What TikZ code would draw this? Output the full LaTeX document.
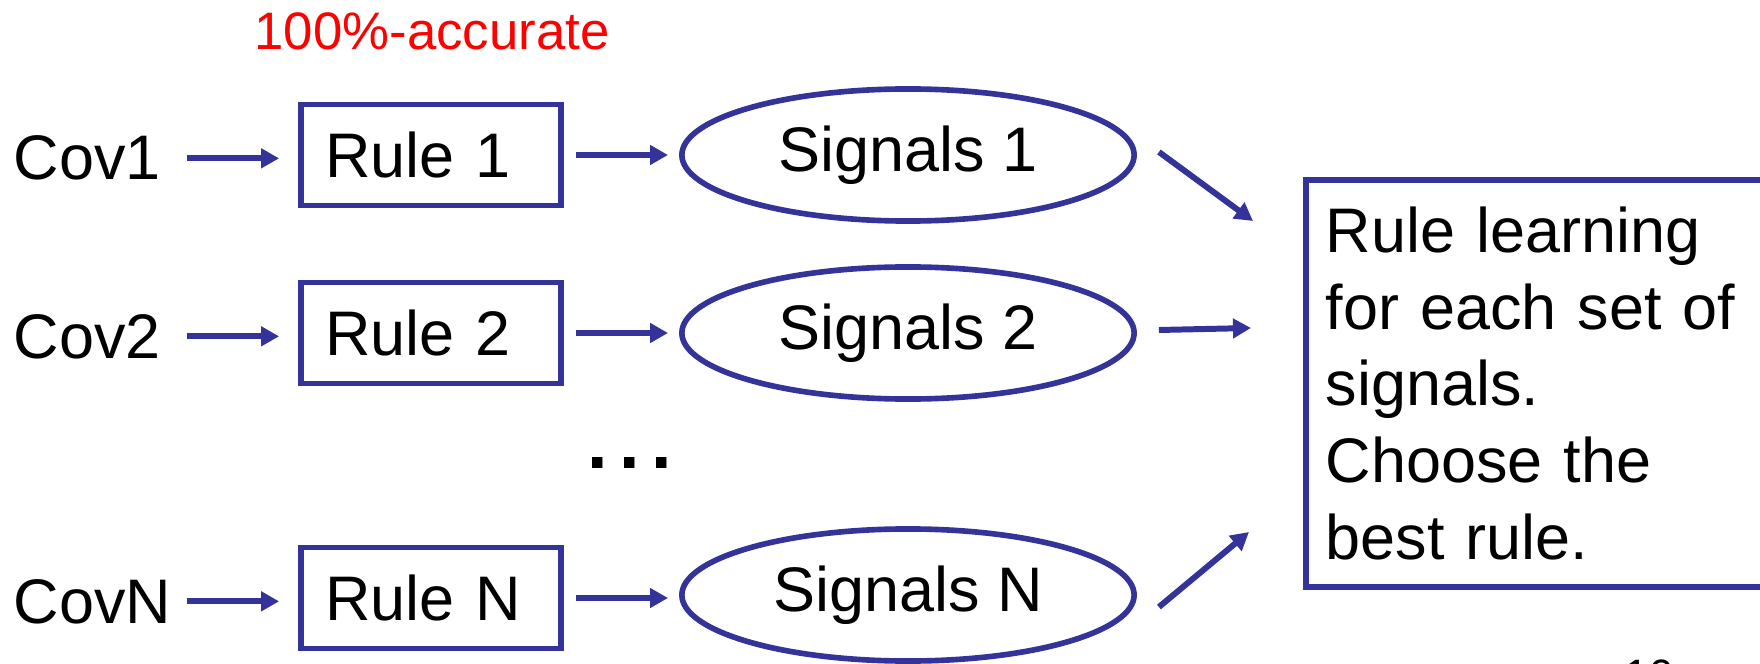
\documentclass[tikz,border=0pt]{standalone}
\usepackage{fontspec}
\setmainfont{Liberation Sans}
\usepackage{tikz}
\usetikzlibrary{shapes.geometric,arrows.meta}
\definecolor{slideblue}{RGB}{51,51,153}

\tikzset{
  covlabel/.style={anchor=base west, inner sep=0pt, text width=1.62cm, align=left},
  rulebox/.style={draw=slideblue, line width=1.6pt, minimum width=2.6cm, minimum height=1.01cm,
    text width=2.11cm, inner xsep=0.245cm, inner ysep=0pt, align=left},
  sigbox/.style={ellipse, draw=slideblue, line width=1.6pt, minimum width=4.52cm, minimum height=1.32cm, inner sep=0pt},
  arr/.style={draw=slideblue, line width=1.7pt, -{Triangle[length=0.18cm,width=0.19cm]}},
}

\begin{document}
\begin{tikzpicture}[x=0.01cm, y=-0.01cm, font=\fontsize{17.9pt}{21.8pt}\selectfont]
\clip (0,0) rectangle (1760,664);

\node[anchor=base, inner sep=0pt, text=red, font=\fontsize{15pt}{18pt}\selectfont] (acc) at (432,50) {100\%-accurate}; % label over rule 1

% row 1
\node[covlabel] (cov1) at (13,180) {Cov1};
\node[rulebox] (rule1) at (431,155) {Rule 1};
\node[sigbox] (sig1) at (908,155) {Signals 1\hspace{0.16cm}};
% row 2
\node[covlabel] (cov2) at (13,358) {Cov2};
\node[rulebox] (rule2) at (431,333) {Rule 2};
\node[sigbox] (sig2) at (908,333) {Signals 2\hspace{0.16cm}};
% row N
\node[covlabel] (covN) at (13,623) {CovN};
\node[rulebox] (ruleN) at (431,598) {Rule N};
\node[sigbox] (sigN) at (908,595) {Signals N\hspace{0.1cm}};

\node[anchor=base, inner sep=0pt, font=\fontsize{21pt}{21pt}\bfseries] (dots) at (630,468)
  {.\hspace{0.115cm}.\hspace{0.115cm}.}; % more rows

\node[draw=slideblue, line width=1.6pt, anchor=north west, text width=4.6cm, align=left,
  inner xsep=0.2cm, inner ysep=0.27cm] (learn) at (1303,177)
  {Rule learning\\for each set of\\signals.\\Choose the\\best rule.}; % goes off the right edge

\node[anchor=north west, inner sep=0pt, font=\fontsize{12.5pt}{14pt}\selectfont] (pageno) at (1624,659) {10};

\coordinate (in1) at (1253,221);
\coordinate (in2) at (1251,328);
\coordinate (inN) at (1249,532);

\draw[arr, shorten <=0.1cm, shorten >=0.19cm] (cov1.east) -- (cov1.east -| rule1.west);
\draw[arr, shorten <=0.1cm, shorten >=0.19cm] (cov2.east) -- (cov2.east -| rule2.west);
\draw[arr, shorten <=0.1cm, shorten >=0.19cm] (covN.east) -- (covN.east -| ruleN.west);

\draw[arr, shorten <=0.12cm, shorten >=0.11cm] (rule1) -- (sig1);
\draw[arr, shorten <=0.12cm, shorten >=0.11cm] (rule2) -- (sig2);
\draw[arr, shorten <=0.12cm, shorten >=0.11cm] (ruleN) -- (sigN.west |- ruleN);

\draw[arr] ([shift={(22,-3)}]sig1.east) -- (in1);
\draw[arr] ([shift={(22,-3)}]sig2.east) -- (in2);
\draw[arr] ([shift={(22,12)}]sigN.east) -- (inN);

\end{tikzpicture}
\end{document}
